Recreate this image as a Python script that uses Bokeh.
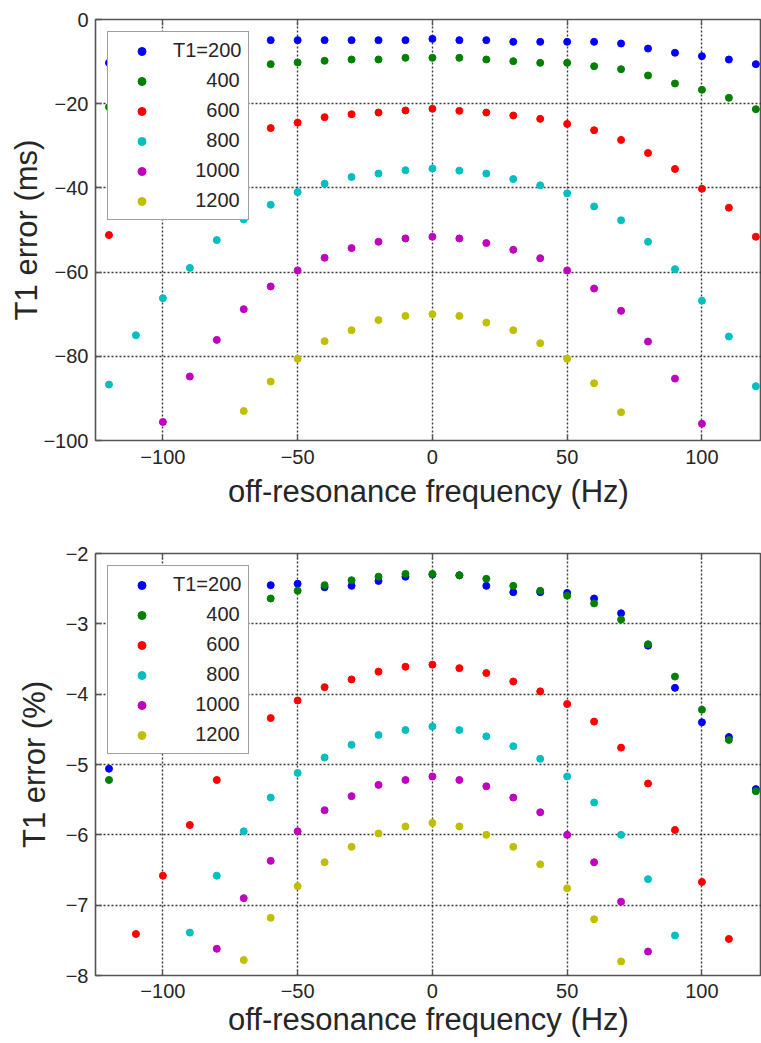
from bokeh.plotting import figure
from bokeh.models import Legend, LegendItem, FixedTicker, LinearAxis, Range1d
from bokeh.layouts import column
from bokeh.embed import file_html
from bokeh.resources import INLINE

nan = float("nan")

freq = list(range(-120, 121, 10))
t1_values = [200, 400, 600, 800, 1000, 1200]
legend_labels = ["T1=200", "\u00a0" * 6 + "400", "\u00a0" * 6 + "600", "\u00a0" * 6 + "800",
                 "\u00a0" * 4 + "1000", "\u00a0" * 4 + "1200"]
colors = ["#0000ff", "#008000", "#ff0000", "#00bfbf", "#bf00bf", "#bfbf00"]

# T1 error in ms (top panel)
ms_200 = [-10.3, -9.4, -8.6, -7.8, -6.8, -5.4, -4.9, -4.9, -4.9, -4.9, -4.9, -4.9, -4.6,
          -4.9, -4.9, -5.3, -5.3, -5.3, -5.3, -5.7, -6.9, -7.9, -8.7, -9.5, -10.6]
ms_400 = [-20.8, -18.3, -16.5, -14.9, -13.1, -11.2, -10.6, -10.2, -9.8, -9.5, -9.5, -9.1, -9.1,
          -9.1, -9.5, -9.9, -10.3, -10.3, -11.1, -11.8, -13.3, -15.2, -16.7, -18.6, -21.3]
ms_600 = [-51.2, -44.5, -40.0, -35.3, -31.5, -28.2, -25.8, -24.5, -23.2, -22.5, -22.1, -21.6, -21.2,
          -21.7, -22.1, -22.8, -23.6, -24.8, -26.3, -28.6, -31.7, -35.5, -40.2, -44.7, -51.6]
ms_800 = [-86.7, -75.0, -66.2, -59.0, -52.4, -47.5, -44.0, -41.0, -39.0, -37.4, -36.6, -35.8, -35.4,
          -35.9, -36.6, -37.9, -39.4, -41.3, -44.4, -47.7, -52.8, -59.3, -66.8, -75.3, -87.1]
ms_1000 = [nan, nan, -95.6, -84.8, -76.1, -68.8, -63.4, -59.6, -56.6, -54.3, -52.8, -52.0, -51.6,
           -52.0, -53.1, -54.7, -56.7, -59.6, -63.9, -69.2, -76.5, -85.3, -96.0, nan, nan]
ms_1200 = [nan, nan, nan, nan, nan, -93.0, -86.0, -80.6, -76.4, -73.8, -71.4, -70.4, -70.0,
           -70.4, -72.0, -73.8, -76.9, -80.6, -86.4, -93.3, nan, nan, nan, nan, nan]

# T1 error in % (bottom panel)
pct_200 = [-5.06, -4.62, -4.40, -3.90, -3.30, -2.66, -2.45, -2.43, -2.48, -2.46, -2.39, -2.33, -2.30,
           -2.31, -2.46, -2.55, -2.55, -2.56, -2.64, -2.85, -3.31, -3.91, -4.40, -4.61, -5.35]
pct_400 = [-5.22, -4.65, -4.22, -3.75, -3.29, -2.85, -2.64, -2.53, -2.45, -2.38, -2.33, -2.29, -2.29,
           -2.31, -2.36, -2.46, -2.53, -2.60, -2.71, -2.94, -3.29, -3.75, -4.22, -4.65, -5.38]
pct_600 = [nan, -7.41, -6.58, -5.86, -5.22, -4.70, -4.34, -4.09, -3.90, -3.79, -3.68, -3.61, -3.58,
           -3.63, -3.70, -3.82, -3.96, -4.14, -4.39, -4.76, -5.27, -5.93, -6.67, -7.48, nan]
pct_800 = [nan, nan, nan, -7.39, -6.58, -5.95, -5.47, -5.12, -4.90, -4.72, -4.58, -4.51, -4.46,
           -4.51, -4.60, -4.74, -4.92, -5.17, -5.54, -6.00, -6.63, -7.43, nan, nan, nan]
pct_1000 = [nan, nan, nan, nan, -7.62, -6.90, -6.37, -5.95, -5.65, -5.45, -5.29, -5.22, -5.17,
            -5.22, -5.31, -5.47, -5.68, -6.00, -6.39, -6.95, -7.66, nan, nan, nan, nan]
pct_1200 = [nan, nan, nan, nan, nan, -7.78, -7.18, -6.73, -6.39, -6.17, -5.98, -5.88, -5.83,
            -5.88, -6.00, -6.17, -6.42, -6.76, -7.20, -7.80, nan, nan, nan, nan, nan]

x_ticks = [-100, -50, 0, 50, 100]
ms_ticks = [0, -20, -40, -60, -80, -100]
pct_ticks = [-2, -3, -4, -5, -6, -7, -8]

FONT = "Liberation Sans"
TXT = "#262626"


def make_panel(series, y_rng, y_ticks, y_label, height, b_top, b_bottom,
               x_tick_standoff, x_lab_standoff, y_lab_standoff):
    p = figure(width=761, height=height, output_backend="svg", toolbar_location=None,
               x_range=Range1d(-125, 122.1), y_range=Range1d(*y_rng),
               min_border_left=95, min_border_right=0, min_border_top=b_top,
               min_border_bottom=b_bottom)
    p.outline_line_color = "#555555"
    p.outline_line_width = 1.6
    p.background_fill_color = "white"
    p.border_fill_color = "white"

    p.xaxis.ticker = FixedTicker(ticks=x_ticks)
    p.yaxis.ticker = FixedTicker(ticks=y_ticks)
    for ax in (p.xaxis[0], p.yaxis[0]):
        ax.axis_line_color = None
        ax.major_tick_in = 6
        ax.major_tick_out = 0
        ax.minor_tick_line_color = None
        ax.major_tick_line_color = "#555555"
        ax.major_tick_line_width = 1.3
        ax.major_label_text_font = FONT
        ax.major_label_text_font_size = "20px"
        ax.major_label_text_color = TXT
        ax.axis_label_text_font = FONT
        ax.axis_label_text_font_size = "31px"
        ax.axis_label_text_font_style = "normal"
        ax.axis_label_text_color = TXT
    p.xaxis.axis_label = "off-resonance frequency (Hz)"
    p.xaxis.major_label_standoff = x_tick_standoff
    p.xaxis.axis_label_standoff = x_lab_standoff
    p.yaxis.axis_label = y_label
    p.yaxis.major_label_standoff = 7
    p.yaxis.axis_label_standoff = y_lab_standoff

    top = LinearAxis(ticker=FixedTicker(ticks=x_ticks), axis_line_color=None,
                     major_tick_in=6, major_tick_out=0, minor_tick_line_color=None,
                     major_tick_line_color="#555555", major_tick_line_width=1.3,
                     major_label_text_font_size="1px", major_label_text_color=None,
                     major_label_standoff=0)
    p.add_layout(top, "above")

    for g in (p.xgrid[0], p.ygrid[0]):
        g.grid_line_color = "#3a3a3a"
        g.grid_line_dash = "2 2"
        g.grid_line_width = 1.4
    p.ygrid.ticker = FixedTicker(ticks=y_ticks)
    p.xgrid.ticker = FixedTicker(ticks=x_ticks)

    items = []
    for vals, col, lab in zip(series, colors, legend_labels):
        r = p.scatter(freq, vals, size=7, color=col, marker="circle")
        items.append(LegendItem(label=lab, renderers=[r]))

    legend = Legend(items=items, location="top_left", margin=12, padding=7, spacing=7,
                    glyph_width=53, glyph_height=20, label_height=20, label_standoff=5,
                    label_text_font=FONT, label_text_font_size="20px", label_text_color=TXT,
                    border_line_color="#404040", border_line_width=1.5,
                    background_fill_color="white", background_fill_alpha=1.0)
    p.add_layout(legend)
    return p


p1 = make_panel([ms_200, ms_400, ms_600, ms_800, ms_1000, ms_1200], (-100, 0), ms_ticks,
                "T1 error (ms)", 520, 19, 80, 9, 7, -4)
p2 = make_panel([pct_200, pct_400, pct_600, pct_800, pct_1000, pct_1200], (-8, -2), pct_ticks,
                "T1 error (%)", 522, 33, 67, 8, 1, 11)

layout = column(p1, p2, spacing=0)
open("out.html", "w").write(file_html(layout, INLINE))
